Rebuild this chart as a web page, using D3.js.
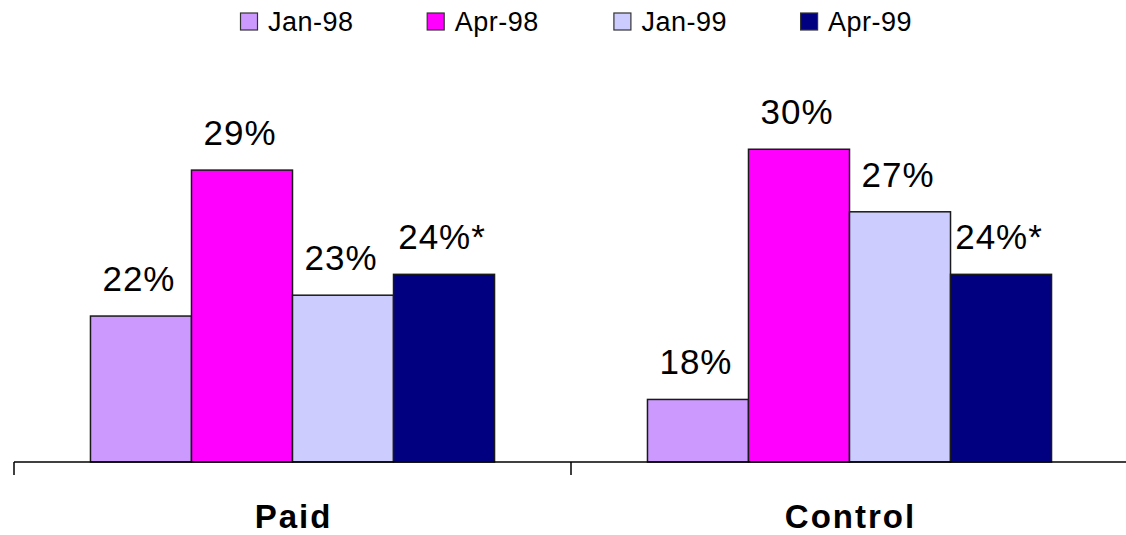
<!DOCTYPE html>
<html>
<head>
<meta charset="utf-8">
<script src="https://cdn.jsdelivr.net/npm/d3@7"></script>
<style>
  html, body { margin: 0; padding: 0; background: #fff; }
  svg { display: block; font-family: "Liberation Sans", Arial, sans-serif; }
</style>
</head>
<body>
<svg id="chart" width="1126" height="535"></svg>
<script>
// ---- data ----
const categories = ["Paid", "Control"];
const seriesNames = ["Jan-98", "Apr-98", "Jan-99", "Apr-99"];
const paidValues = [22, 29, 23, 24];
const controlValues = [18, 30, 27, 24];
const paidLabels = ["22%", "29%", "23%", "24%*"];
const controlLabels = ["18%", "30%", "27%", "24%*"];
const seriesColors = ["#CC99FF", "#FF00FF", "#CCCCFF", "#000080"];

const valuesByCat = { "Paid": paidValues, "Control": controlValues };
const labelsByCat = { "Paid": paidLabels, "Control": controlLabels };

const svg = d3.select("#chart");

const x0 = d3.scaleBand().domain(categories).range([14, 1128]).paddingInner(0).paddingOuter(0);
const x1 = d3.scaleBand().domain(seriesNames).range([0, x0.bandwidth()]).paddingInner(0).paddingOuter(0.757);
const y = d3.scaleLinear().domain([15, 35]).range([462, 45]);

// bars
const groups = svg.selectAll("g.cat").data(categories).join("g")
  .attr("class", "cat")
  .attr("transform", d => `translate(${x0(d)},0)`);

groups.selectAll("rect").data(c => seriesNames.map((s, i) => ({ s, i, v: valuesByCat[c][i] })))
  .join("rect")
  .attr("x", d => x1(d.s))
  .attr("y", d => y(d.v))
  .attr("width", x1.bandwidth())
  .attr("height", d => y(15) - y(d.v))
  .attr("fill", d => seriesColors[d.i])
  .attr("stroke", "#1a1a1a")
  .attr("stroke-width", 1.5);

// data labels
groups.selectAll("text.val").data(c => seriesNames.map((s, i) => ({ s, i, v: valuesByCat[c][i], t: labelsByCat[c][i] })))
  .join("text")
  .attr("class", "val")
  .attr("x", d => x1(d.s) + x1.bandwidth() / 2 - 2)
  .attr("y", d => y(d.v) - 25)
  .attr("text-anchor", "middle")
  .attr("font-size", 35)
  .attr("letter-spacing", 1)
  .attr("fill", "#000")
  .text(d => d.t);

// axis
const axisG = svg.append("g").attr("transform", `translate(0,${y(15)})`);
axisG.call(d3.axisBottom(x0).tickSize(0).tickFormat(""));
axisG.select(".domain").attr("stroke", "#000").attr("stroke-width", 1.5)
  .attr("d", `M${x0.range()[0]},0H${x0.range()[1]}`);
axisG.selectAll("line.sep").data(categories).join("line")
  .attr("class", "sep")
  .attr("x1", d => x0(d)).attr("x2", d => x0(d))
  .attr("y1", 0).attr("y2", 13)
  .attr("stroke", "#000").attr("stroke-width", 1.5);

// category labels
svg.selectAll("text.cat").data(categories).join("text")
  .attr("class", "cat")
  .attr("x", d => x0(d) + x0.bandwidth() / 2 + 1)
  .attr("y", 528)
  .attr("text-anchor", "middle")
  .attr("font-size", 33)
  .attr("font-weight", "bold")
  .attr("letter-spacing", 2)
  .attr("fill", "#000")
  .text(d => d);

// legend
const legendX = d3.scaleBand().domain(seriesNames).range([240, 240 + 4 * 186.7]);
const lg = svg.selectAll("g.leg").data(seriesNames).join("g")
  .attr("class", "leg")
  .attr("transform", d => `translate(${legendX(d)},0)`);
lg.append("rect")
  .attr("x", 0.5).attr("y", 13).attr("width", 17).attr("height", 17)
  .attr("fill", (d, i) => seriesColors[i])
  .attr("stroke", "#333").attr("stroke-width", 1.2);
lg.append("text")
  .attr("x", 28).attr("y", 31)
  .attr("font-size", 27)
  .attr("letter-spacing", 0.5)
  .attr("fill", "#000")
  .text(d => d);
</script>
</body>
</html>
